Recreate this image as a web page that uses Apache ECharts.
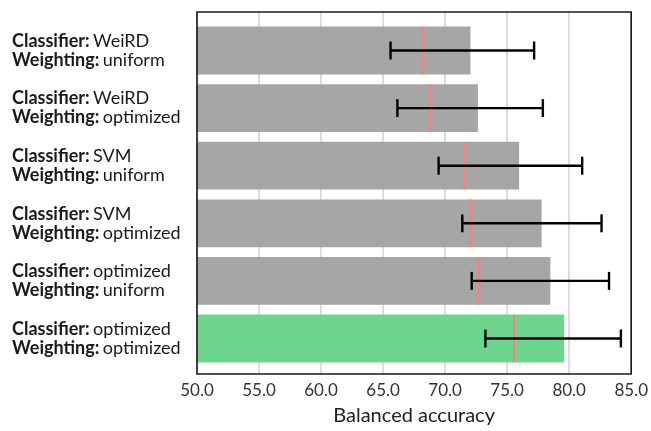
<!DOCTYPE html>
<html>
<head>
<meta charset="utf-8">
<script src="https://cdn.jsdelivr.net/npm/echarts@6/dist/echarts.min.js"></script>
<style>html,body{margin:0;padding:0;background:#fff}#c{width:651px;height:431px}</style>
</head>
<body>
<div id="c"></div>
<script>
var classifiers = ['WeiRD', 'WeiRD', 'SVM', 'SVM', 'optimized', 'optimized'];
var weightings = ['uniform', 'optimized', 'uniform', 'optimized', 'uniform', 'optimized'];
var meanAcc = [71.9, 72.5, 75.8, 77.6, 78.3, 79.4];
var medianAcc = [68.05, 68.7, 71.4, 71.9, 72.55, 75.4];
var errLow = [65.5, 66.05, 69.35, 71.25, 72.0, 73.1];
var errHigh = [77.0, 77.7, 80.85, 82.4, 83.0, 83.95];
var xTicks = [50, 55, 60, 65, 70, 75, 80, 85];

var cats = classifiers.map(function (c, i) { return i; });
var FONT = 'Lato';

var barData = meanAcc.map(function (v, i) {
  return { value: v, itemStyle: { color: i === meanAcc.length - 1 ? '#6dd68c' : '#a6a6a6' } };
});
var medData = medianAcc.map(function (v, i) { return [i, v]; });
var errData = errLow.map(function (v, i) { return [i, v, errHigh[i]]; });

var chart = echarts.init(document.getElementById('c'));
chart.setOption({
  animation: false,
  grid: [
    { left: 197, right: 17, top: 21.7, bottom: 63.7, show: false },
    { left: 197, right: 17, top: 12, bottom: 52.7, show: true, borderColor: '#1a1a1a', borderWidth: 1.6, backgroundColor: 'transparent', z: 10 }
  ],
  xAxis: [
    { gridIndex: 0, type: 'value', min: xTicks[0], max: xTicks[xTicks.length - 1], show: false },
    { gridIndex: 1, type: 'value', min: xTicks[0], max: xTicks[xTicks.length - 1], interval: 5,
      axisLine: { show: false }, axisTick: { show: false },
      splitLine: { show: true, lineStyle: { color: '#d0d0d0', width: 1.5 } },
      axisLabel: { margin: 8, fontFamily: FONT, fontSize: 17, color: '#333', formatter: function (v) { return v.toFixed(1); } },
      name: 'Balanced accuracy', nameLocation: 'middle', nameGap: 32,
      nameTextStyle: { fontFamily: FONT, fontSize: 20, color: '#222' }
    }
  ],
  yAxis: [
    { gridIndex: 0, type: 'category', inverse: true, data: cats,
      axisLine: { show: false }, axisTick: { show: false }, splitLine: { show: false },
      axisLabel: {
        align: 'left', margin: 185,
        formatter: function (v, i) {
          return '{b|Classifier:} {n|' + classifiers[i] + '}\n{b|Weighting:} {n|' + weightings[i] + '}';
        },
        rich: {
          b: { fontFamily: FONT, fontWeight: 'bold', fontSize: 18, color: '#1a1a1a', lineHeight: 19 },
          n: { fontFamily: FONT, fontSize: 18, color: '#1a1a1a', lineHeight: 19 }
        }
      }
    },
    { gridIndex: 1, type: 'value', min: 0, max: 1, show: false }
  ],
  series: [
    { type: 'bar', xAxisIndex: 0, yAxisIndex: 0, data: barData, barWidth: '83%', z: 2 },
    { type: 'custom', xAxisIndex: 0, yAxisIndex: 0, data: medData, z: 3,
      encode: { x: 1, y: 0 },
      renderItem: function (params, api) {
        var p = api.coord([api.value(1), api.value(0)]);
        var h = api.size([0, 1])[1] * 0.83 / 2;
        return { type: 'line', shape: { x1: p[0], y1: p[1] - h, x2: p[0], y2: p[1] + h },
          style: { stroke: '#ff7b7b', lineWidth: 1.8 } };
      }
    },
    { type: 'custom', xAxisIndex: 0, yAxisIndex: 0, data: errData, z: 4,
      encode: { x: [1, 2], y: 0 },
      renderItem: function (params, api) {
        var a = api.coord([api.value(1), api.value(0)]);
        var b = api.coord([api.value(2), api.value(0)]);
        var c = 9;
        var st = { stroke: '#000', lineWidth: 2.4 };
        return { type: 'group', children: [
          { type: 'line', shape: { x1: a[0], y1: a[1], x2: b[0], y2: b[1] }, style: st },
          { type: 'line', shape: { x1: a[0], y1: a[1] - c, x2: a[0], y2: a[1] + c }, style: st },
          { type: 'line', shape: { x1: b[0], y1: b[1] - c, x2: b[0], y2: b[1] + c }, style: st }
        ] };
      }
    }
  ]
});
</script>
</body>
</html>
